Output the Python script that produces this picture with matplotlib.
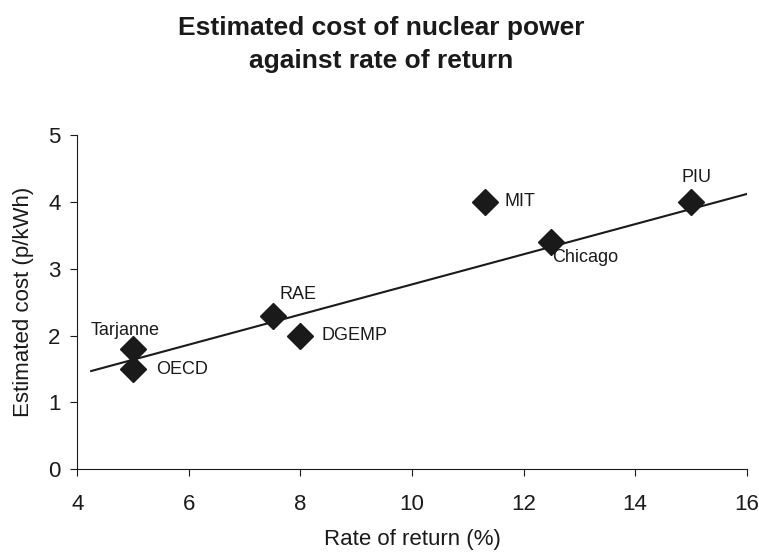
import matplotlib.pyplot as plt

# data
labels = ['Tarjanne', 'OECD', 'RAE', 'DGEMP', 'MIT', 'Chicago', 'PIU']
rate = [5.0, 5.0, 7.5, 8.0, 11.3, 12.5, 15.0]
cost = [1.8, 1.5, 2.3, 2.0, 4.0, 3.4, 4.0]

# trend line end points
trend_x = [4.25, 16.1]
trend_y = [1.47, 4.14]

# label positions (data coords) and alignment
label_pos = {
    'Tarjanne': (4.86, 2.08, 'center'),
    'OECD': (5.42, 1.50, 'left'),
    'RAE': (7.62, 2.62, 'left'),
    'DGEMP': (8.38, 2.00, 'left'),
    'MIT': (11.65, 4.00, 'left'),
    'Chicago': (12.52, 3.17, 'left'),
    'PIU': (15.1, 4.36, 'center'),
}

plt.rcParams['font.family'] = ['Liberation Sans', 'DejaVu Sans']
col = '#1a1a1a'

fig = plt.figure(figsize=(7.59, 5.54), dpi=100)
ax = fig.add_axes([0.1018, 0.1529, 0.882, 0.6034])

ax.plot(trend_x, trend_y, color=col, lw=1.5)
ax.plot(rate, cost, 'D', color=col, markersize=13.5, linestyle='none')

for name in labels:
    tx, ty, ha = label_pos[name]
    ax.text(tx, ty, name, ha=ha, va='center', fontsize=13, color=col)

ax.set_xlim(4, 16)
ax.set_ylim(0, 5)
ax.set_xticks(range(4, 17, 2))
ax.set_yticks(range(0, 6))
ax.spines['top'].set_visible(False)
ax.spines['right'].set_visible(False)
for s in ['left', 'bottom']:
    ax.spines[s].set_color(col)
ax.tick_params(labelsize=16, colors=col, length=5, direction='out')
ax.tick_params(axis='x', pad=13)
ax.tick_params(axis='y', pad=7)
ax.set_xlabel('Rate of return (%)', fontsize=16, color=col, labelpad=10)
ax.set_ylabel('Estimated cost (p/kWh)', fontsize=16, color=col, labelpad=10)

# two-line bold title
fig.text(0.502, 1 - 35 / 554, 'Estimated cost of nuclear power',
         ha='center', va='baseline', fontsize=19, fontweight='bold', color=col)
fig.text(0.502, 1 - 68 / 554, 'against rate of return',
         ha='center', va='baseline', fontsize=19, fontweight='bold', color=col)

plt.savefig('out.png', dpi=100)
